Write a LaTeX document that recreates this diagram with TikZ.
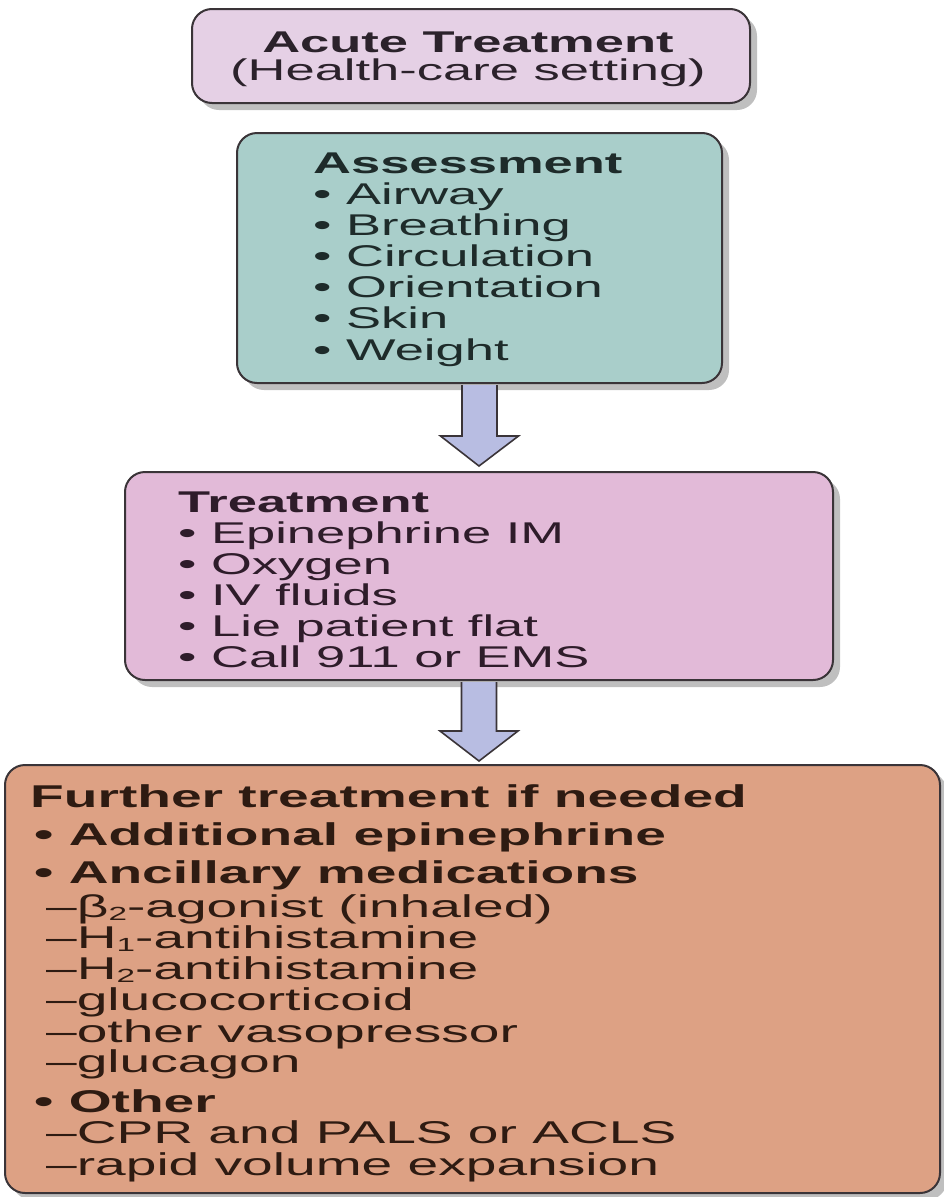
\documentclass[tikz,border=0pt]{standalone}
\usepackage{fontspec}
\setmainfont[FakeStretch=1.75]{Liberation Sans}
\usetikzlibrary{shadows,calc}
\definecolor{fillA}{HTML}{E5D0E5}
\definecolor{fillB}{HTML}{A9CECA}
\definecolor{fillC}{HTML}{E2BAD8}
\definecolor{fillD}{HTML}{DDA184}
\definecolor{arrowfill}{HTML}{B8BDE2}
\definecolor{edgecol}{HTML}{3A3438}
\definecolor{txtA}{HTML}{2B222B}
\definecolor{txtB}{HTML}{1E2B2A}
\definecolor{txtC}{HTML}{2E1C2A}
\definecolor{txtD}{HTML}{2E1B12}
\tikzset{
  box/.style={draw=edgecol, line width=2pt, rounded corners=20pt, inner sep=0pt,
    drop shadow={shadow xshift=7pt, shadow yshift=-7pt, fill=black, opacity=0.25}},
  txtline/.style={anchor=base west, inner sep=0pt, font=\fontsize{30pt}{30pt}\selectfont},
  hd/.style={txtline, font=\fontsize{30pt}{30pt}\selectfont\bfseries},
  bigline/.style={anchor=base west, inner sep=0pt, font=\fontsize{31.5pt}{31.5pt}\selectfont},
  bighd/.style={bigline, font=\fontsize{31.5pt}{31.5pt}\selectfont\bfseries},
  blockarrow/.style={fill=arrowfill, draw=edgecol, line width=1.6pt, line join=miter},
}
\newcommand{\subidx}[1]{\raisebox{-0.12em}{\fontsize{19pt}{19pt}\selectfont #1}}
\begin{document}
\begin{tikzpicture}[x=1pt,y=1pt]
\useasboundingbox (0,0) rectangle (944,-1197);
\fill[white] (0,0) rectangle (944,-1197);
% boxes
\node[box, fill=fillA, minimum width=558pt, minimum height=94pt] (b1) at (471,-56) {};
\node[box, fill=fillB, minimum width=485pt, minimum height=250pt] (b2) at (479.5,-258) {};
\node[box, fill=fillC, minimum width=708pt, minimum height=208pt] (b3) at (479,-576) {};
\node[box, fill=fillD, minimum width=935pt, minimum height=428pt] (b4) at (472.5,-979) {};
% block arrows
\path[blockarrow] ($(b2.south)+(-17.5,-1)$) -- ($(b2.south)+(-17.5,-52)$) -- ($(b2.south)+(-39,-52)$)
  -- ($(b3.north)+(0,5)$) -- ($(b2.south)+(39,-52)$) -- ($(b2.south)+(17.5,-52)$) -- ($(b2.south)+(17.5,-1)$);
\path[blockarrow] ($(b3.south)+(-17.5,-1)$) -- ($(b3.south)+(-17.5,-50)$) -- ($(b3.south)+(-39,-50)$)
  -- ($(b4.north)+(6.5,3)$) -- ($(b3.south)+(39,-50)$) -- ($(b3.south)+(17.5,-50)$) -- ($(b3.south)+(17.5,-1)$);
% box 1 text
\node[hd, anchor=base, text=txtA] (t1a) at (468,-52) {Acute Treatment};
\node[txtline, anchor=base, text=txtA] (t1b) at (468,-80) {(Health-care setting)};
% box 2 text
\begin{scope}[every node/.append style={text=txtB}]
\node[hd] (t2a) at (313,-173) {Assessment};
\node[txtline] (t2b) at (313,-204) {• Airway};
\node[txtline] (t2c) at (313,-235) {• Breathing};
\node[txtline] (t2d) at (313,-266) {• Circulation};
\node[txtline] (t2e) at (313,-297) {• Orientation};
\node[txtline] (t2f) at (313,-328) {• Skin};
\node[txtline] (t2g) at (313,-360) {• Weight};
\end{scope}
% box 3 text
\begin{scope}[every node/.append style={text=txtC}]
\node[hd] (t3a) at (178,-512) {Treatment};
\node[txtline] (t3b) at (178,-543) {• Epinephrine IM};
\node[txtline] (t3c) at (178,-574) {• Oxygen};
\node[txtline] (t3d) at (178,-605) {• IV fluids};
\node[txtline] (t3e) at (178,-636) {• Lie patient flat};
\node[txtline] (t3f) at (178,-667) {• Call 911 or EMS};
\end{scope}
% box 4 text
\begin{scope}[every node/.append style={text=txtD}]
\node[bighd] (t4a) at (30,-807) {Further treatment if needed};
\node[bighd] (t4b) at (34,-845) {• Additional epinephrine};
\node[bighd] (t4c) at (34,-883) {• Ancillary medications};
\node[bigline] (t4d) at (46,-917) {–β\subidx{2}-agonist (inhaled)};
\node[bigline] (t4e) at (46,-948) {–H\subidx{1}-antihistamine};
\node[bigline] (t4f) at (46,-979) {–H\subidx{2}-antihistamine};
\node[bigline] (t4g) at (46,-1010) {–glucocorticoid};
\node[bigline] (t4h) at (46,-1042) {–other vasopressor};
\node[bigline] (t4i) at (46,-1072) {–glucagon};
\node[bighd] (t4j) at (34,-1112) {• Other};
\node[bigline] (t4k) at (46,-1143) {–CPR and PALS or ACLS};
\node[bigline] (t4l) at (46,-1175) {–rapid volume expansion};
\end{scope}
\end{tikzpicture}
\end{document}
